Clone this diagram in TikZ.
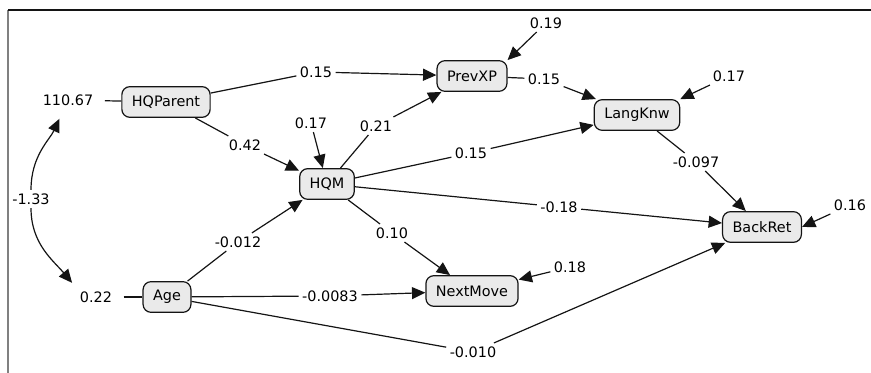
\documentclass[tikz,border=0pt]{standalone}
\usepackage{fontspec}
\setmainfont{DejaVu Sans}
\usetikzlibrary{arrows.meta,calc}
\definecolor{Ink}{HTML}{141414}
\definecolor{BoxFill}{HTML}{EAEAEA}
\tikzset{
  var/.style={draw=Ink,fill=BoxFill,rounded corners=6pt,line width=0.9pt,
    minimum height=23pt,inner xsep=7.5pt,font=\fontsize{10.8}{12}\selectfont},
  lbl/.style={inner sep=2.5pt,font=\fontsize{10.8}{12}\selectfont},
  link/.style={draw=Ink,line width=0.9pt},
  arr/.style={link,-{Triangle[length=10pt,width=9pt]}},
}
\newcommand{\PathVia}[3]{%
  \draw[link] (#1) -- (#2);%
  \draw[arr] (#2) -- (#3);%
}

\begin{document}
\begin{tikzpicture}[x=0.75pt,y=0.75pt]
\useasboundingbox (0,0) rectangle (871,-373);
\draw[black!50,line width=1.3pt] (8,-373) -- (8,-10);
\draw[Ink,line width=0.8pt] (8,-10) -- (871,-10);

% variables
\node[var] (HQParent) at (166,-102) {HQParent};
\node[var] (Age)      at (167,-297) {Age};
\node[var] (HQM)      at (327,-184) {HQM};
\node[var] (PrevXP)   at (472,-76)  {PrevXP};
\node[var] (LangKnw)  at (637,-115) {LangKnw};
\node[var] (NextMove) at (472,-291) {NextMove};
\node[var] (BackRet)  at (762,-227) {BackRet};

% variances and covariance
\node[lbl] (vHQP) at (68,-100) {110.67};
\node[lbl] (vAge) at (96,-297) {0.22};
\node[lbl] (cov)  at (31,-199) {-1.33};
\draw[link,shorten <=6pt] (vHQP) -- (HQParent);
\draw[link,shorten <=6pt] (vAge) -- (Age);
\draw[arr,shorten >=8pt] (cov) to[out=90,in=-115] ([xshift=-3pt]vHQP.south);
\draw[arr,shorten >=5pt] (cov) to[out=-90,in=130] (vAge.north west);

% path coefficients
\node[lbl] (l1)  at (316,-72)  {0.15};
\node[lbl] (l2)  at (245,-145) {0.42};
\node[lbl] (l3)  at (376,-126) {0.21};
\node[lbl] (l4)  at (544,-79)  {0.15};
\node[lbl] (l5)  at (471,-153) {0.15};
\node[lbl] (l6)  at (559,-207) {-0.18};
\node[lbl] (l7)  at (392,-233) {0.10};
\node[lbl] (l8)  at (696,-162) {-0.097};
\node[lbl] (l9)  at (238,-242) {-0.012};
\node[lbl] (l10) at (330,-296) {-0.0083};
\node[lbl] (l11) at (473,-352) {-0.010};
\PathVia{HQParent}{l1}{PrevXP}
\PathVia{HQParent}{l2}{HQM}
\PathVia{HQM}{l3}{PrevXP}
\PathVia{PrevXP}{l4}{LangKnw}
\PathVia{HQM}{l5}{LangKnw}
\PathVia{HQM}{l6}{BackRet}
\PathVia{HQM}{l7}{NextMove}
\PathVia{LangKnw}{l8}{BackRet}
\PathVia{Age}{l9}{HQM}
\PathVia{Age}{l10}{NextMove}
\PathVia{Age}{l11}{BackRet}

% residuals
\node[lbl] (eP) at (546,-23)  {0.19};
\node[lbl] (eH) at (311,-123) {0.17};
\node[lbl] (eL) at (729,-76)  {0.17};
\node[lbl] (eN) at (570,-267) {0.18};
\node[lbl] (eB) at (850,-205) {0.16};
\foreach \e/\t in {eP/PrevXP.north east,eH/HQM,eL/LangKnw.north east,eN/NextMove,eB/BackRet.east}
  \draw[arr] (\e) -- (\t);
\end{tikzpicture}
\end{document}
